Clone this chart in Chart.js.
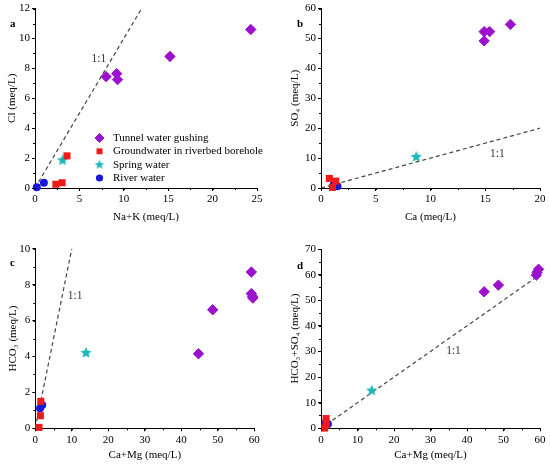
<!DOCTYPE html>
<html>
<head>
<meta charset="utf-8">
<script src="https://cdn.jsdelivr.net/npm/chart.js@4.4.1/dist/chart.umd.min.js"></script>
<style>
  html, body { margin: 0; padding: 0; background: #fff; }
  #wrap { position: relative; width: 550px; height: 467px; }
  .panel { position: absolute; }
</style>
</head>
<body>
<div id="wrap">
  <div class="panel" style="left:0;top:0;width:275px;height:233px"><canvas id="chartA"></canvas></div>
  <div class="panel" style="left:275px;top:0;width:275px;height:233px"><canvas id="chartB"></canvas></div>
  <div class="panel" style="left:0;top:233px;width:275px;height:234px"><canvas id="chartC"></canvas></div>
  <div class="panel" style="left:275px;top:233px;width:275px;height:234px"><canvas id="chartD"></canvas></div>
</div>
<script>
// series labels
const seriesNames = ['Tunnel water gushing', 'Groundwater in riverbed borehole', 'Spring water', 'River water'];

// panel a : Na+K vs Cl
const tunnelA = [[24.3, 10.6], [15.2, 8.8], [8.0, 7.45], [9.2, 7.65], [9.3, 7.25]];
const groundA = [[3.6, 2.15], [3.05, 0.35], [2.35, 0.25]];
const springA = [[3.1, 1.85]];
const riverA = [[1.0, 0.35], [0.2, 0.05]];
const lineA = [0, 12];

// panel b : Ca vs SO4
const tunnelB = [[17.3, 54.7], [14.9, 52.3], [15.4, 52.3], [14.9, 49.2]];
const groundB = [[0.76, 3.2], [1.34, 2.3], [1.05, 0.2]];
const springB = [[8.7, 10.4]];
const riverB = [[1.15, 1.0], [1.5, 0.6]];
const lineB = [0, 20];

// panel c : Ca+Mg vs HCO3
const tunnelC = [[59.2, 8.7], [59.2, 7.5], [59.5, 7.35], [59.6, 7.25], [48.6, 6.6], [44.7, 4.15]];
const groundC = [[1.5, 1.5], [1.4, 0.7], [1.0, 0.05]];
const springC = [[13.9, 4.2]];
const riverC = [[1.3, 1.12], [1.9, 1.3]];
const lineC = [0, 10];

// panel d : Ca+Mg vs HCO3+SO4
const tunnelD = [[44.7, 53.3], [48.6, 55.9], [59.0, 59.8], [59.2, 60.9], [59.6, 62.1]];
const groundD = [[1.4, 3.8], [1.0, 0.1], [1.4, 1.6]];
const springD = [[13.9, 14.7]];
const riverD = [[1.2, 2.1], [1.9, 1.7]];
const lineD = [0, 60];

const purple = '#9a12cc';
const red = '#ee1b1b';
const cyan = '#1fb8b8';
const blue = '#1717dd';
const serif = '"Liberation Serif", "Times New Roman", serif';

Chart.defaults.font.family = serif;
Chart.defaults.font.size = 11;
Chart.defaults.color = '#000';

function makeStar(size, color) {
  let c = document.createElement('canvas');
  c.width = size;
  c.height = size;
  let ctx = c.getContext('2d');
  let r = size / 2, ri = r * 0.45;
  ctx.beginPath();
  for (let i = 0; i < 10; i++) {
    let rad = (i % 2 === 0) ? r : ri;
    let a = -Math.PI / 2 + i * Math.PI / 5;
    ctx.lineTo(r + rad * Math.cos(a), r + rad * Math.sin(a));
  }
  ctx.closePath();
  ctx.fillStyle = color;
  ctx.fill();
  return c;
}

const starBig = makeStar(12, cyan);
const starSmall = makeStar(10, cyan);

function toPoints(pairs) {
  return pairs.map(p => ({ x: p[0], y: p[1] }));
}

//draws minor ticks, panel letter, 1:1 label and (panel a) legend
const extras = {
  id: 'extras',
  afterDraw(chart, args, opts) {
    const ctx = chart.ctx;
    const xs = chart.scales.x, ys = chart.scales.y;
    ctx.save();
    ctx.strokeStyle = '#000';
    ctx.lineWidth = 1;
    for (let v = xs.min; v <= xs.max; v += opts.minorX) {
      let px = Math.round(xs.getPixelForValue(v)) + 0.5;
      ctx.beginPath();
      ctx.moveTo(px, xs.top);
      ctx.lineTo(px, xs.top + 2);
      ctx.stroke();
    }
    for (let v = ys.min; v <= ys.max; v += opts.minorY) {
      let py = Math.round(ys.getPixelForValue(v)) + 0.5;
      ctx.beginPath();
      ctx.moveTo(ys.right, py);
      ctx.lineTo(ys.right - 2, py);
      ctx.stroke();
    }

    ctx.fillStyle = '#000';
    ctx.font = 'bold 11px ' + serif;
    ctx.textBaseline = 'middle';
    ctx.textAlign = 'left';
    ctx.fillText(opts.letter, opts.letterPos[0], opts.letterPos[1]);

    ctx.font = '11.5px ' + serif;
    ctx.fillStyle = '#333';
    ctx.textAlign = 'center';
    ctx.fillText('1:1', xs.getPixelForValue(opts.ratioAt[0]), ys.getPixelForValue(opts.ratioAt[1]));

    if (opts.legend) {
      ctx.font = '11px ' + serif;
      ctx.textAlign = 'left';
      ctx.fillStyle = '#000';
      const rows = [138, 151.3, 164.7, 178];
      const styles = [
        { pointStyle: 'rectRot', radius: 4.5, backgroundColor: purple, borderColor: purple, borderWidth: 1 },
        { pointStyle: 'rect', radius: 4.2, backgroundColor: red, borderColor: red, borderWidth: 0 },
        { pointStyle: starSmall, radius: 5, borderWidth: 0 },
        { pointStyle: 'circle', radius: 3.6, backgroundColor: blue, borderColor: blue, borderWidth: 0 }
      ];
      for (let i = 0; i < 4; i++) {
        ctx.fillStyle = styles[i].backgroundColor || cyan;
        ctx.strokeStyle = styles[i].borderColor || cyan;
        ctx.lineWidth = styles[i].borderWidth;
        Chart.helpers.drawPoint(ctx, styles[i], 99.5, rows[i]);
        ctx.fillStyle = '#000';
        ctx.fillText(seriesNames[i], 113, rows[i]);
      }
    }
    ctx.restore();
  }
};

function makePanel(id, p) {
  let datasets = [
    {
      type: 'line',
      data: [{ x: p.line[0], y: p.line[0] }, { x: p.line[1], y: p.line[1] }],
      borderColor: '#444',
      borderWidth: 1.2,
      borderDash: [4, 3],
      pointRadius: 0,
      order: 10
    },
    { label: seriesNames[0], data: toPoints(p.tunnel), pointStyle: 'rectRot', pointRadius: 5.2,
      backgroundColor: purple, borderColor: purple, borderWidth: 1, clip: false },
    { label: seriesNames[1], data: toPoints(p.ground), pointStyle: 'rect', pointRadius: 5,
      backgroundColor: red, borderColor: red, borderWidth: 0, clip: false },
    { label: seriesNames[2], data: toPoints(p.spring), pointStyle: starBig, pointRadius: 6,
      backgroundColor: cyan, borderWidth: 0, clip: false },
    { label: seriesNames[3], data: toPoints(p.river), pointStyle: 'circle', pointRadius: 4,
      backgroundColor: blue, borderColor: blue, borderWidth: 0, clip: false }
  ];

  new Chart(document.getElementById(id), {
    type: 'scatter',
    data: { datasets: datasets },
    options: {
      responsive: true,
      maintainAspectRatio: false,
      animation: false,
      events: [],
      layout: { padding: { top: p.top, right: p.right, left: 0, bottom: 0 } },
      plugins: {
        legend: { display: false },
        tooltip: { enabled: false },
        extras: { letter: p.letter, letterPos: p.letterPos, ratioAt: p.ratioAt,
                  minorX: p.xStep / 2, minorY: p.yStep / 2, legend: !!p.legend }
      },
      scales: {
        x: {
          type: 'linear', min: 0, max: p.xMax,
          ticks: { stepSize: p.xStep, padding: 2 },
          grid: { drawOnChartArea: false, tickLength: 3, color: '#000' },
          border: { color: '#000', width: 1 },
          title: { display: true, text: p.xTitle, font: { size: 11 }, padding: { top: 0, bottom: p.xTitlePad } },
          afterFit: s => { s.height = p.xHeight; }
        },
        y: {
          type: 'linear', min: 0, max: p.yMax,
          ticks: { stepSize: p.yStep, padding: 2 },
          grid: { drawOnChartArea: false, tickLength: 3, color: '#000' },
          border: { color: '#000', width: 1 },
          title: { display: true, text: p.yTitle, font: { size: 11 }, padding: { top: p.yTitlePad, bottom: 0 } },
          afterFit: s => { s.width = p.yWidth; }
        }
      }
    },
    plugins: [extras]
  });
}

makePanel('chartA', {
  tunnel: tunnelA, ground: groundA, spring: springA, river: riverA, line: lineA,
  xMax: 25, xStep: 5, yMax: 12, yStep: 2,
  xTitle: 'Na+K (meq/L)', yTitle: 'Cl (meq/L)',
  top: 8, right: 18, yWidth: 35, xHeight: 45, xTitlePad: 9.4, yTitlePad: 5.9,
  letter: 'a', letterPos: [10, 24], ratioAt: [7.2, 8.6], legend: true
});

makePanel('chartB', {
  tunnel: tunnelB, ground: groundB, spring: springB, river: riverB, line: lineB,
  xMax: 20, xStep: 5, yMax: 60, yStep: 10,
  xTitle: 'Ca (meq/L)', yTitle: 'SO\u2084 (meq/L)',
  top: 8, right: 10, yWidth: 46, xHeight: 45, xTitlePad: 9.4, yTitlePad: 13.4,
  letter: 'b', letterPos: [22, 24], ratioAt: [16.1, 11.4]
});

makePanel('chartC', {
  tunnel: tunnelC, ground: groundC, spring: springC, river: riverC, line: lineC,
  xMax: 60, xStep: 10, yMax: 10, yStep: 2,
  xTitle: 'Ca+Mg (meq/L)', yTitle: 'HCO\u2083 (meq/L)',
  top: 15.7, right: 20.7, yWidth: 35.3, xHeight: 38.7, xTitlePad: 5.7, yTitlePad: 6.4,
  letter: 'c', letterPos: [10, 30.5], ratioAt: [10.9, 7.35]
});

makePanel('chartD', {
  tunnel: tunnelD, ground: groundD, spring: springD, river: riverD, line: lineD,
  xMax: 60, xStep: 10, yMax: 70, yStep: 10,
  xTitle: 'Ca+Mg (meq/L)', yTitle: 'HCO\u2083+SO\u2084 (meq/L)',
  top: 16, right: 10, yWidth: 46, xHeight: 38.7, xTitlePad: 5.7, yTitlePad: 13.4,
  letter: 'd', letterPos: [22, 33], ratioAt: [36.3, 30]
});
</script>
</body>
</html>
